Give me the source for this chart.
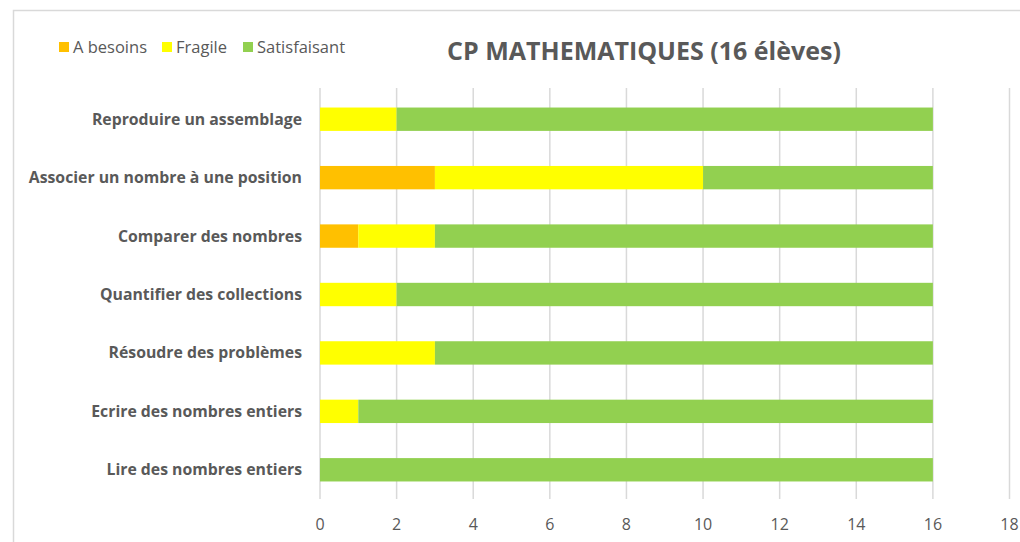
<!DOCTYPE html>
<html>
<head>
<meta charset="utf-8">
<script src="https://cdn.jsdelivr.net/npm/d3@7"></script>
<style>
  body { margin: 0; background: #fff; }
  text { font-family: "Open Sans", "Liberation Sans", sans-serif; }
</style>
</head>
<body>
<script>
// Data
const categories = [
  "Reproduire un assemblage",
  "Associer un nombre à une position",
  "Comparer des nombres",
  "Quantifier des collections",
  "Résoudre des problèmes",
  "Ecrire des nombres entiers",
  "Lire des nombres entiers"
];
const seriesNames = ["A besoins", "Fragile", "Satisfaisant"];
const aBesoins = [0, 3, 1, 0, 0, 0, 0];
const fragile = [2, 7, 2, 2, 3, 1, 0];
const satisfaisant = [14, 6, 13, 14, 13, 15, 16];
const xTicks = [0, 2, 4, 6, 8, 10, 12, 14, 16, 18];
const colors = ["#FFC000", "#FFFF00", "#92D050"];

// Canvas config
const config = { width: 1020, height: 542 };
const margin = { left: 320, right: 10, top: 90, bottom: 43 };

const svg = d3
  .select("body")
  .append("svg")
  .attr("width", config.width)
  .attr("height", config.height);

// Chart border (cropped on right/bottom)
svg
  .append("rect")
  .attr("x", 13.5)
  .attr("y", 10.5)
  .attr("width", 1010)
  .attr("height", 600)
  .attr("fill", "none")
  .attr("stroke", "#d9d9d9")
  .attr("stroke-width", 1.5);

const rows = categories.map((c, i) => ({
  name: c,
  "A besoins": aBesoins[i],
  Fragile: fragile[i],
  Satisfaisant: satisfaisant[i]
}));

const stacked = d3.stack().keys(seriesNames)(rows);

const x = d3
  .scaleLinear()
  .domain([0, 18])
  .range([margin.left, 1009.5]);

const y = d3
  .scaleBand()
  .domain(categories)
  .range([margin.top, config.height - margin.bottom])
  .paddingInner(0.6)
  .paddingOuter(0.3);

// Gridlines
svg
  .append("g")
  .selectAll("line")
  .data(xTicks)
  .enter()
  .append("line")
  .attr("x1", d => x(d))
  .attr("x2", d => x(d))
  .attr("y1", margin.top - 2)
  .attr("y2", config.height - margin.bottom)
  .attr("stroke", "#d9d9d9")
  .attr("stroke-width", 1.5);

// Bars
svg
  .append("g")
  .selectAll("g")
  .data(stacked)
  .enter()
  .append("g")
  .attr("fill", (d, i) => colors[i])
  .selectAll("rect")
  .data(d => d)
  .enter()
  .append("rect")
  .attr("x", d => x(d[0]))
  .attr("y", d => y(d.data.name))
  .attr("width", d => x(d[1]) - x(d[0]))
  .attr("height", y.bandwidth());

// X tick labels
svg
  .append("g")
  .selectAll("text")
  .data(xTicks)
  .enter()
  .append("text")
  .attr("x", d => x(d))
  .attr("y", 530)
  .attr("text-anchor", "middle")
  .attr("font-size", 16)
  .attr("fill", "#595959")
  .text(d => d);

// Category labels
svg
  .append("g")
  .selectAll("text")
  .data(categories)
  .enter()
  .append("text")
  .attr("x", 302)
  .attr("y", d => y(d) + y.bandwidth() / 2)
  .attr("dy", "0.35em")
  .attr("text-anchor", "end")
  .attr("font-size", 15.8)
  .attr("font-weight", "bold")
  .attr("fill", "#595959")
  .text(d => d);

// Title
svg
  .append("text")
  .attr("x", 644)
  .attr("y", 60)
  .attr("text-anchor", "middle")
  .attr("font-size", 25)
  .attr("font-weight", "bold")
  .attr("fill", "#595959")
  .text("CP MATHEMATIQUES (16 élèves)");

// Legend
const legendX = [59, 162, 243];
const legend = svg
  .append("g")
  .selectAll("g")
  .data(seriesNames)
  .enter()
  .append("g")
  .attr("transform", (d, i) => `translate(${legendX[i]},42)`);

legend
  .append("rect")
  .attr("width", 10)
  .attr("height", 10)
  .attr("fill", (d, i) => colors[i]);

legend
  .append("text")
  .attr("x", 14)
  .attr("y", 11)
  .attr("font-size", 16.5)
  .attr("fill", "#595959")
  .text(d => d);
</script>
</body>
</html>
